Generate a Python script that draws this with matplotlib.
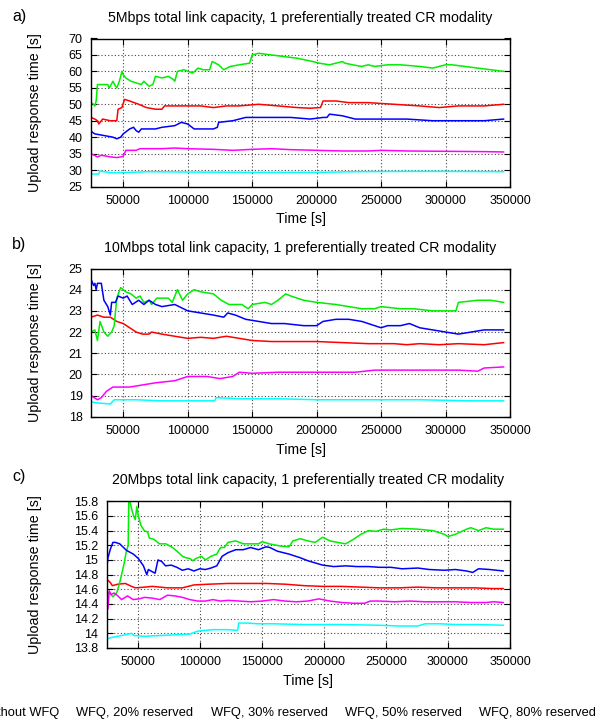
import numpy as np
import matplotlib
matplotlib.use("Agg")
import matplotlib.pyplot as plt
from matplotlib.lines import Line2D
from matplotlib.ticker import FuncFormatter, MultipleLocator

plt.rcParams['font.family'] = ['Liberation Sans', 'DejaVu Sans']

# ---------------- data (time in thousands of seconds) ----------------
LABELS = ["Without WFQ", "WFQ, 20% reserved", "WFQ, 30% reserved",
          "WFQ, 50% reserved", "WFQ, 80% reserved"]
COLORS = ["#ff0000", "#00ee00", "#0000ff", "#ff00ff", "#00ffff"]
TITLES = ["5Mbps total link capacity, 1 preferentially treated CR modality",
          "10Mbps total link capacity, 1 preferentially treated CR modality",
          "20Mbps total link capacity, 1 preferentially treated CR modality"]
PANEL_TAGS = ["a)", "b)", "c)"]
X_TICKS = [50000, 100000, 150000, 200000, 250000, 300000, 350000]

# panel a
a_t_red = [25,28,30,31,34,40,45,46,49,51,55,62,68,75,80,82,100,110,120,130,140,155,170,185,195,203,205,215,225,240,260,280,295,310,330,345]
a_v_red = [46,45.5,45,44,45.5,45,45,48.5,49,51.5,51,50,49,48.5,48.5,49.5,49.5,49.5,49,49.5,49.5,50,49.5,49,48.8,49,51,51,50.5,50.5,50,49.5,49,49.5,49.5,50]
a_t_green = [25,27,28,29,30,31,38,39,40,42,44,45,47,49,50,52,56,60,64,66,70,73,75,80,85,89,90,92,97,104,108,112,117,119,124,128,133,140,148,150,155,165,175,185,197,202,210,220,222,228,235,240,245,255,265,280,290,300,305,315,325,335,345]
a_v_green = [50.5,50,49.5,51,56,56,56,55,55.5,57,55.5,55,57,60,59,58,57,56.5,56,57,55.5,56,58.5,58,58.5,57.5,57,60,60.5,59.5,61,60.5,60.5,63,62,60.5,61.5,62,62.5,65,65.5,65,64.5,64,63,62.5,62,63,62.5,62,61.5,62,61.5,62,62,61.5,61,62,62,61.5,61,60.5,60]
a_t_blue = [25,26,28,35,42,45,48,50,55,58,60,62,64,75,80,90,95,100,105,120,123,124,135,145,160,180,195,205,208,210,220,230,250,270,290,310,330,345]
a_v_blue = [42,41.5,41,40.5,40,39.5,40,41,42.5,43,42,41.5,42.5,42.5,43,43.5,44.5,44,42.5,42.5,43,44.5,45,46,46,46,45.5,46,46,47,46.5,45.5,45.5,45.5,45,45,45,45.5]
a_t_magenta = [25,30,33,40,45,48,50,52,60,63,80,90,100,120,135,150,165,180,200,220,240,250,270,300,330,345]
a_v_magenta = [35,34,34.5,34,33.8,34,34.2,36,36,36.5,36.5,36.7,36.5,36.3,36,36.3,36.5,36.2,36,35.8,35.8,36,35.8,35.7,35.6,35.5]
a_t_cyan = [25,31,32,40,55,70,100,150,200,230,270,300,345]
a_v_cyan = [28.8,28.8,29.7,29.2,29.3,29.5,29.4,29.3,29.3,29.5,29.6,29.6,29.5]

# panel b
b_t_red = [25,30,35,40,45,50,55,60,65,70,72,80,90,100,110,120,130,140,150,165,180,200,220,240,260,270,280,295,310,330,345]
b_v_red = [22.7,22.8,22.7,22.7,22.5,22.4,22.2,22,21.9,21.9,22,21.9,21.8,21.7,21.75,21.7,21.8,21.7,21.6,21.55,21.55,21.55,21.5,21.45,21.45,21.4,21.45,21.4,21.45,21.4,21.5]
b_t_green = [25,28,30,32,35,38,41,43,45,48,52,56,60,63,66,70,72,76,85,88,92,96,100,105,110,120,126,132,142,147,150,160,165,170,176,180,190,200,215,225,235,245,250,265,275,290,308,310,325,335,345]
b_v_green = [22,22.1,21.6,22.5,22,21.8,22,22.3,23.6,24.1,23.9,23.8,23.6,23.7,23.4,23.5,23.3,23.6,23.6,23.4,24,23.5,23.8,24,23.9,23.8,23.5,23.3,23.3,23.1,23.3,23.4,23.3,23.5,23.8,23.7,23.5,23.4,23.3,23.2,23.1,23.1,23.2,23.1,23.1,23,23,23.4,23.5,23.5,23.4]
b_t_blue = [25,27,28,29,30,33,35,38,40,41,44,46,50,53,57,62,66,70,75,80,90,100,110,120,128,131,137,145,155,165,175,190,200,205,215,225,235,245,250,255,265,272,280,290,300,310,320,330,345]
b_v_blue = [24.5,24.2,24.3,24,24.3,24.3,23.5,23.2,22.8,23.4,23.4,23.7,23.6,23.7,23.3,23.5,23.3,23.5,23.3,23.2,23.3,23,22.9,22.8,22.7,22.9,22.8,22.6,22.5,22.4,22.4,22.3,22.3,22.5,22.6,22.6,22.5,22.3,22.2,22.3,22.3,22.4,22.2,22.1,22,21.9,22,22.1,22.1]
b_t_magenta = [25,30,33,37,42,55,65,75,90,100,115,125,135,140,150,170,190,210,230,245,260,290,310,325,330,345]
b_v_magenta = [19,18.8,18.9,19.2,19.4,19.4,19.5,19.6,19.7,19.9,19.9,19.8,19.9,20.1,20.05,20.1,20.1,20.1,20.1,20.2,20.2,20.2,20.2,20.15,20.3,20.35]
b_t_cyan = [25,30,40,43,60,80,110,121,122,140,170,200,250,280,320,345]
b_v_cyan = [18.7,18.65,18.6,18.8,18.8,18.75,18.75,18.75,18.9,18.85,18.85,18.8,18.8,18.8,18.75,18.75]

# panel c
c_t_red = [25,28,29.5,34,40,45,48,55.6,61.7,74,86,95.3,107.5,122.8,138,153.4,168.6,184,199,214.5,229.8,245,260.4,275.7,291,306,321,336.8,344.5]
c_v_red = [14.74,14.69,14.65,14.67,14.68,14.64,14.62,14.63,14.64,14.62,14.62,14.66,14.67,14.68,14.68,14.68,14.67,14.65,14.64,14.64,14.63,14.62,14.62,14.63,14.62,14.62,14.62,14.61,14.61]
c_t_green = [25,27,30,33,35,37,39,40.6,42.3,42.8,44,45,46.7,48,49.3,50.5,52.6,55.3,58,59.3,63.3,67.4,72.8,78,83,86,89,92,94.4,96.8,101.4,104.5,109,113.7,116.7,119.8,122.8,129,135,147.3,150.3,156,165,172,175,181,187,193,199,205,211,217.6,223.7,229.8,236,242,248,254,263,275.7,288,297,300,306,315,318.5,324.6,330.7,336.8,344.5]
c_v_green = [14.55,14.55,14.5,14.55,14.66,14.8,14.95,15.1,15.2,15.8,15.78,15.7,15.6,15.55,15.73,15.6,15.47,15.4,15.38,15.3,15.28,15.22,15.22,15.17,15.1,15.05,15.03,15.02,14.99,15.02,15.05,15.0,15.05,15.08,15.17,15.17,15.24,15.26,15.22,15.22,15.25,15.22,15.19,15.18,15.26,15.29,15.26,15.24,15.31,15.26,15.24,15.22,15.28,15.35,15.4,15.39,15.42,15.41,15.43,15.42,15.4,15.35,15.32,15.35,15.42,15.44,15.4,15.44,15.42,15.42]
c_t_blue = [25,26,28,30,32,35.5,41,46.5,50.5,54.6,57.3,58.6,61.7,64,66.3,69.3,72.4,77,81.5,86,90.7,95.3,100,104.5,109,113.7,118,122.8,129,135,141,147.3,153.4,156.5,162.5,172,181,187,193,199,208,217.6,226.7,236,245,254,263,275.7,285,297,306,315,320,324.6,333.7,344.5]
c_v_blue = [14.88,15.03,15.15,15.24,15.24,15.22,15.13,15.08,15.02,14.92,14.8,14.87,14.84,14.82,15.0,14.98,14.92,14.93,14.9,14.86,14.88,14.85,14.88,14.87,14.89,14.92,15.05,15.1,15.14,15.14,15.17,15.14,15.18,15.17,15.12,15.08,15.03,14.99,14.96,14.93,14.91,14.92,14.91,14.91,14.9,14.9,14.88,14.89,14.87,14.86,14.87,14.85,14.83,14.88,14.87,14.85]
c_t_magenta = [25,26,27,28.5,31,34,37,41.8,46.4,51,55.6,61.7,67.8,74,80,86,92,98.4,104.5,110.6,116.7,122.8,132,141,150.3,159.5,168.6,178,187,196,205,214.5,223.7,232.8,237.5,245,257,269.4,281.6,294,306,318.5,330.7,336.8,344.5]
c_v_magenta = [14.48,14.33,14.58,14.53,14.55,14.51,14.46,14.51,14.46,14.47,14.49,14.48,14.46,14.52,14.51,14.49,14.46,14.44,14.44,14.46,14.44,14.45,14.44,14.43,14.44,14.46,14.44,14.43,14.44,14.47,14.44,14.42,14.41,14.41,14.44,14.44,14.43,14.44,14.43,14.43,14.43,14.42,14.42,14.43,14.42]
c_t_cyan = [25,28,34,40,45,47,55.6,67.8,80,92,98.4,104.5,110.6,122.8,130.5,131.4,138,147.3,159.5,184,214.5,245,260.4,275.7,281.6,294,306,324.6,344.5]
c_v_cyan = [13.92,13.94,13.96,13.98,14.0,13.97,13.96,13.97,13.98,13.99,14.03,14.04,14.05,14.05,14.04,14.14,14.14,14.13,14.13,14.12,14.12,14.11,14.1,14.1,14.13,14.13,14.12,14.12,14.11]

YLIMS = [(25, 70), (18, 25), (13.8, 15.8)]
YSTEPS = [5, 1, 0.2]
XLIM = (25000, 350000)

panels = [
    [(a_t_red, a_v_red), (a_t_green, a_v_green), (a_t_blue, a_v_blue), (a_t_magenta, a_v_magenta), (a_t_cyan, a_v_cyan)],
    [(b_t_red, b_v_red), (b_t_green, b_v_green), (b_t_blue, b_v_blue), (b_t_magenta, b_v_magenta), (b_t_cyan, b_v_cyan)],
    [(c_t_red, c_v_red), (c_t_green, c_v_green), (c_t_blue, c_v_blue), (c_t_magenta, c_v_magenta), (c_t_cyan, c_v_cyan)],
]

# ---------------- layout (pixels) ----------------
W, H = 595, 724
fig = plt.figure(figsize=(W / 100, H / 100), dpi=100)

# (left, right, top, bottom) in pixels
boxes = [(91, 510, 38.5, 186.5), (91, 510, 268.5, 416.7), (106.7, 510, 501.3, 648)]
title_y = [18, 248, 480]
tag_y = [17, 245, 477]

def fx(px):
    return px / W

def fy(py):
    return 1 - py / H

for i, (series, box) in enumerate(zip(panels, boxes)):
    l, r, t, b = box
    ax = fig.add_axes([fx(l), fy(b), fx(r) - fx(l), (b - t) / H])
    for (tt, vv), col in zip(series, COLORS):
        ax.plot(np.asarray(tt) * 1000.0, vv, color=col, lw=1.1)
    ax.set_xlim(*XLIM)
    ax.set_ylim(*YLIMS[i])
    ax.set_xticks(X_TICKS)
    ax.xaxis.set_major_formatter(FuncFormatter(lambda v, p: "%d" % v))
    ax.yaxis.set_major_locator(MultipleLocator(YSTEPS[i]))
    ax.yaxis.set_major_formatter(FuncFormatter(lambda v, p: "%g" % round(v, 3)))
    ax.tick_params(direction='in', top=True, right=True, length=4, width=0.8,
                   labelsize=9, pad=6)
    ax.grid(True, linestyle=(0, (1, 2)), color='#444444', linewidth=0.8)
    ax.set_axisbelow(True)
    for sp in ax.spines.values():
        sp.set_linewidth(1.0)
    ax.set_xlabel("Time [s]", fontsize=10.2, labelpad=4)
    ax.set_ylabel("Upload response time [s]", fontsize=10.3)
    ax.yaxis.set_label_coords(fx(42.5), fy((t + b) / 2), transform=fig.transFigure)
    fig.text(fx((l + r) / 2), fy(title_y[i]), TITLES[i], ha='center', va='center', fontsize=10.2)
    fig.text(fx(12), fy(tag_y[i]), PANEL_TAGS[i], ha='left', va='center', fontsize=11.5)

handles = [Line2D([], [], color=c, lw=0) for c in COLORS]
fig.legend(handles, LABELS, loc='center', bbox_to_anchor=(fx(289), fy(712.5)),
           ncol=5, frameon=False, fontsize=9.3, handlelength=0, handletextpad=0,
           columnspacing=1.35)

fig.savefig("out.png", dpi=100)
